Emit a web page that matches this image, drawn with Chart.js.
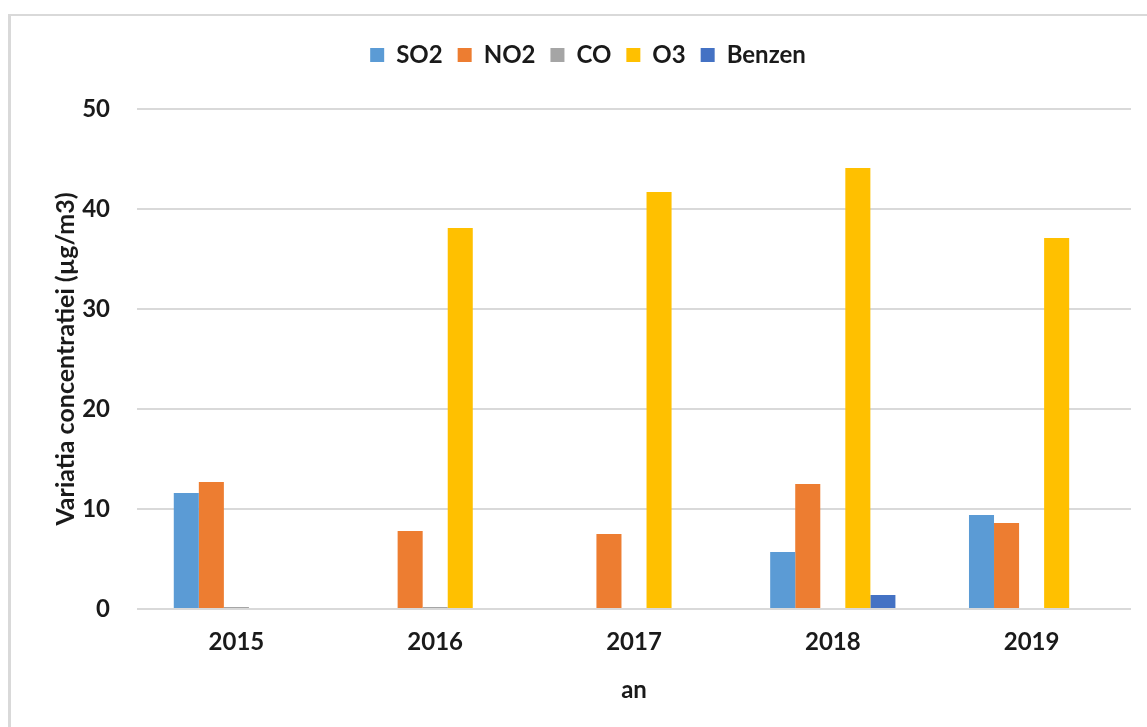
<!DOCTYPE html>
<html>
<head>
<meta charset="utf-8">
<script src="https://cdn.jsdelivr.net/npm/chart.js@4/dist/chart.umd.min.js"></script>
<style>
html,body{margin:0;padding:0;background:#fff;}
#wrap{position:relative;width:1147px;height:727px;}
#frame{position:absolute;left:8px;top:14px;right:0;bottom:0;border-left:3px solid #d9d9d9;border-top:2px solid #d9d9d9;}
canvas{position:absolute;left:0;top:0;}
</style>
</head>
<body>
<div id="wrap">
<div id="frame"></div>
<canvas id="chart" width="1147" height="727"></canvas>
</div>
<script>
// years on the x axis
const years = ["2015","2016","2017","2018","2019"];

// yearly concentrations per pollutant (µg/m3)
const so2    = [11.6, 0, 0, 5.7, 9.4];
const no2    = [12.7, 7.8, 7.5, 12.5, 8.6];
const co     = [0.2, 0.2, 0, 0, 0];
const o3     = [0, 38.1, 41.7, 44.1, 37.1];
const benzen = [0, 0, 0, 1.4, 0];

const yTicks = [0,10,20,30,40,50];

const fontFam = "Lato, 'Open Sans', sans-serif";
const txt = "#1a1a1a";

function ds(label, data, color){
return {
label: label,
data: data,
backgroundColor: color,
borderWidth: 0,
barPercentage: 1,
categoryPercentage: 0.63
};
}

// leave more room between the legend and the plot
const legendGap = {
id:"legendGap",
beforeInit(chart){
const fit = chart.legend.fit;
chart.legend.fit = function(){
fit.bind(chart.legend)();
this.height = 81;
};
}
};

const ctx = document.getElementById("chart");

new Chart(ctx,{
type:"bar",
data:{
labels: years,
datasets:[
ds("SO2", so2, "#5b9bd5"),
ds("NO2", no2, "#ed7d31"),
ds("CO", co, "#a5a5a5"),
ds("O3", o3, "#ffc000"),
ds("Benzen", benzen, "#4472c4")
]
},
plugins:[legendGap],
options:{
responsive:false,
animation:false,
layout:{padding:{top:28,left:45,right:16,bottom:18}},
plugins:{
legend:{
display:true,
position:"top",
labels:{
boxWidth:14,
boxHeight:14,
padding:15,
color:txt,
font:{family:fontFam,size:24,weight:"bold"}
}
},
tooltip:{enabled:false}
},
scales:{
x:{
grid:{display:false,drawTicks:false},
border:{display:false},
ticks:{color:txt,padding:19,font:{family:fontFam,size:24,weight:"bold"}},
title:{display:true,text:"an",color:txt,padding:{top:0,bottom:4},font:{family:fontFam,size:24,weight:"bold"}},
afterFit(axis){ axis.height = 100; }
},
y:{
min:0,
max:50,
afterBuildTicks:(axis)=>{ axis.ticks = yTicks.map(v=>({value:v})); },
grid:{color:"#d9d9d9",lineWidth:2,drawTicks:false},
border:{display:false},
ticks:{color:txt,padding:27,font:{family:fontFam,size:24,weight:"bold"}},
title:{display:true,text:"Variatia concentratiei (µg/m3)",color:txt,padding:{top:6,bottom:0},font:{family:fontFam,size:25,weight:"bold"}},
afterFit(axis){ axis.width = 92; }
}
}
}
});
</script>
</body>
</html>
